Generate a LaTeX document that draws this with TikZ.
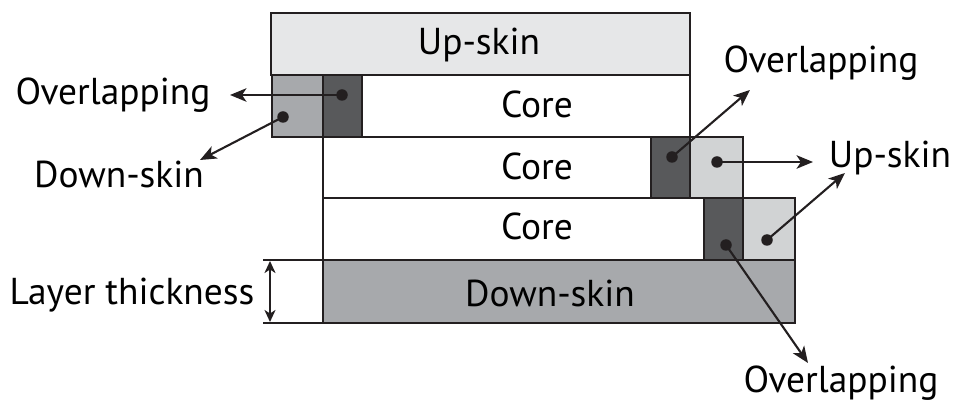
\documentclass[tikz,border=0pt]{standalone}
\usepackage{fontspec}
\setmainfont{PT Sans}
\usepackage{xcolor}
\definecolor{pale_gray}{RGB}{230,231,232}
\definecolor{light_gray}{RGB}{209,211,212}
\definecolor{mid_gray}{RGB}{167,169,172}
\definecolor{dark_gray}{RGB}{88,89,91}
\definecolor{line_black}{RGB}{35,31,32}
\usetikzlibrary{arrows.meta}

\begin{document}
\begin{tikzpicture}[x=0.02cm, y=-0.02cm,
  cell/.style={draw=line_black, line width=1.2pt},
  txt/.style={font=\fontsize{21.3}{25}\selectfont, text=black, inner sep=0pt, anchor=base},
  dot/.style={circle, fill=line_black, inner sep=0pt, minimum size=0.23cm},
  pointer/.style={draw=line_black, line width=1.2pt, -{Stealth[length=0.33cm, width=0.27cm, inset=0.09cm]}}]
\useasboundingbox (0,0) rectangle (953,404);

% top layer
\draw[cell, fill=pale_gray] (271,13) rectangle (690,75);
% layer 1
\draw[cell, fill=mid_gray] (272,75) rectangle (323,137);
\draw[cell, fill=dark_gray] (323,75) rectangle (362,137);
\draw[cell, fill=white] (362,75) rectangle (690,137);
% layer 2
\draw[cell, fill=white] (323,137) rectangle (651,198);
\draw[cell, fill=dark_gray] (651,137) rectangle (690,198);
\draw[cell, fill=light_gray] (690,137) rectangle (743,198);
% layer 3
\draw[cell, fill=white] (323,198) rectangle (704,260);
\draw[cell, fill=dark_gray] (704,198) rectangle (743,260);
\draw[cell, fill=light_gray] (743,198) rectangle (795,260);
% bottom layer
\draw[cell, fill=mid_gray] (323,260) rectangle (795,323);

\node[txt] (up_skin) at (479,55) {Up-skin};
\node[txt] (core_a) at (537,118) {Core};
\node[txt] (core_b) at (537,180) {Core};
\node[txt] (core_c) at (537,240) {Core};
\node[txt] (down_skin) at (550,307) {Down-skin};

% layer thickness
\coordinate (lt_a) at (263,260);
\coordinate (lt_b) at (263,323);
\draw[cell] (lt_a) -- (323,260);
\draw[cell] (lt_b) -- (323,323);
\coordinate (lt_top) at (270,261);
\coordinate (lt_bot) at (270,322);
\draw[draw=line_black, line width=1.1pt, {Stealth[length=0.24cm, width=0.22cm, inset=0.07cm]}-{Stealth[length=0.24cm, width=0.22cm, inset=0.07cm]}] (lt_top) -- (lt_bot);
\node[txt] (lbl_thick) at (132,305) {Layer thickness};

% dots and pointers
\node[dot] (ov_a) at (342,95) {};
\node[dot] (ds_a) at (283,117) {};
\node[dot] (ov_b) at (672,157) {};
\node[dot] (us_b) at (717,162) {};
\node[dot] (us_c) at (767,240) {};
\node[dot] (ov_c) at (726,245) {};

\coordinate (ov_a_tip) at (230,95);
\coordinate (ds_a_tip) at (200,160);
\coordinate (ov_b_tip) at (750,90);
\coordinate (us_b_tip) at (813,162);
\coordinate (us_c_tip) at (845,173);
\coordinate (ov_c_tip) at (808,363);

\draw[pointer] (ov_a.center) -- (ov_a_tip);
\draw[pointer] (ds_a.center) -- (ds_a_tip);
\draw[pointer] (ov_b.center) -- (ov_b_tip);
\draw[pointer] (us_b.center) -- (us_b_tip);
\draw[pointer] (us_c.center) -- (us_c_tip);
\draw[pointer] (ov_c.center) -- (ov_c_tip);

\node[txt] (lbl_ov_a) at (113,105) {Overlapping};
\node[txt] (lbl_ds_a) at (119,188) {Down-skin};
\node[txt] (lbl_ov_b) at (821,73) {Overlapping};
\node[txt] (lbl_us) at (890,168) {Up-skin};
\node[txt] (lbl_ov_c) at (841,393) {Overlapping};

\end{tikzpicture}
\end{document}
